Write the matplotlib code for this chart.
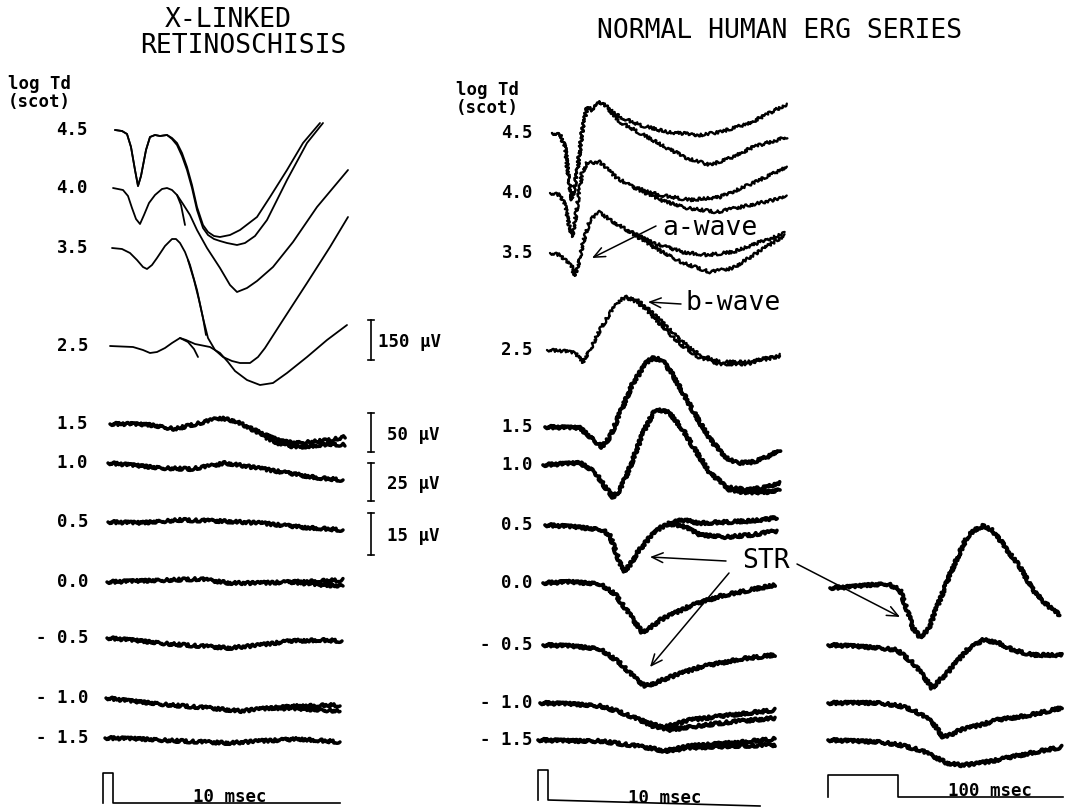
import matplotlib.pyplot as plt

# ---- trace values (x: time in px, y: level in px, downwards) ----
# X-linked retinoschisis, 10 msec sweep
xlrs_traces = {
    '4.5': [([115, 122, 127, 131, 135, 138, 141, 146, 150, 155, 160, 167, 172, 177, 182, 187, 192, 197, 203, 208, 214,
              220, 230, 240, 257, 270, 287, 303, 320],
             [130, 131, 134, 147, 170, 186, 176, 150, 137, 135, 136, 135, 138, 143, 153, 167, 185, 207, 225, 232, 236,
              237, 235, 230, 217, 197, 170, 143, 123]),
            ([115, 122, 127, 131, 135, 138, 141, 146, 150, 155, 160, 167, 172, 177, 182, 187, 192, 197, 203, 208, 214,
              220, 227, 237, 245, 255, 267, 287, 307, 323],
             [130, 131, 134, 147, 170, 186, 176, 150, 137, 135, 136, 135, 139, 145, 156, 170, 188, 210, 228, 235, 239,
              241, 243, 245, 243, 236, 220, 180, 143, 123])],
    '4.0': [([113, 123, 128, 132, 136, 140, 144, 149, 155, 162, 167, 172, 177, 183, 190, 197, 207, 220, 230, 237, 247,
              257, 273, 293, 317, 348],
             [188, 190, 196, 208, 219, 224, 215, 203, 195, 189, 188, 190, 195, 204, 215, 230, 248, 268, 285, 292, 288,
              281, 267, 242, 207, 170]),
            ([177, 181, 183, 185], [195, 205, 215, 225])],
    '3.5': [([112, 122, 130, 137, 143, 147, 152, 157, 165, 172, 176, 180, 185, 190, 197, 203, 208, 215, 223, 232, 240,
              250, 258, 265, 283, 307, 330, 348],
             [248, 249, 253, 260, 267, 269, 265, 258, 246, 239, 239, 243, 252, 265, 290, 318, 338, 350, 357, 361, 363,
              363, 357, 348, 320, 283, 247, 217]),
            ([188, 194, 199, 203, 206], [260, 280, 300, 318, 335])],
    '2.5': [([110, 133, 143, 150, 157, 165, 172, 180, 186, 195, 210, 220, 228, 235, 247, 260, 273, 287, 307, 327, 347],
             [346, 347, 350, 353, 352, 348, 343, 338, 340, 344, 347, 353, 362, 371, 380, 385, 383, 373, 357, 340, 325]),
            ([180, 188, 194, 198], [338, 342, 349, 357])],
    '1.5': [([110, 130, 150, 175, 200, 220, 235, 250, 265, 280, 295, 310, 330, 345],
             [424, 424, 425, 429, 423, 418, 421, 428, 437, 444, 447, 446, 444, 445]),
            ([250, 265, 280, 295, 310, 330, 345], [428, 435, 441, 443, 442, 440, 437])],
    '1.0': [([108, 130, 160, 190, 210, 225, 245, 270, 300, 320, 343],
             [463, 465, 468, 469, 466, 463, 466, 470, 475, 478, 480])],
    '0.5': [([108, 140, 180, 220, 260, 300, 343], [522, 523, 520, 521, 523, 527, 530])],
    '0.0': [([107, 140, 170, 200, 230, 260, 290, 320, 343], [582, 581, 580, 579, 583, 583, 582, 581, 580]),
            ([290, 320, 343], [582, 585, 586])],
    '- 0.5': [([107, 130, 170, 200, 230, 260, 290, 320, 342], [638, 640, 644, 646, 648, 645, 641, 640, 641])],
    '- 1.0': [([106, 130, 170, 210, 240, 270, 300, 340], [698, 701, 705, 708, 711, 708, 706, 705]),
              ([270, 300, 340], [708, 709, 711])],
    '- 1.5': [([105, 140, 180, 230, 260, 300, 340], [738, 739, 741, 743, 741, 739, 742])],
}

# normal human, 10 msec sweep
normal_traces = {
    '4.5': [([552, 560, 565, 568, 572, 577, 582, 587, 592, 600, 607, 620, 640, 667, 700, 720, 750, 787],
             [133, 135, 147, 173, 200, 173, 133, 107, 110, 102, 107, 117, 125, 132, 135, 132, 123, 104]),
            ([552, 560, 565, 568, 572, 577, 582, 587, 592, 600, 607, 620, 640, 667, 687, 710, 733, 753, 787],
             [133, 135, 147, 173, 200, 173, 133, 107, 110, 102, 107, 122, 133, 148, 158, 165, 157, 147, 137])],
    '4.0': [([550, 560, 565, 569, 572, 575, 578, 582, 587, 600, 605, 617, 633, 660, 690, 720, 753, 787],
             [193, 195, 205, 225, 237, 222, 200, 173, 163, 162, 167, 178, 187, 195, 200, 197, 183, 167]),
            ([633, 660, 687, 717, 750, 787], [187, 200, 208, 212, 205, 197])],
    '3.5': [([550, 560, 567, 572, 574, 578, 583, 590, 600, 610, 627, 653, 683, 707, 733, 785],
             [253, 255, 262, 267, 276, 267, 243, 220, 212, 220, 230, 243, 252, 255, 252, 233]),
            ([627, 653, 683, 710, 733, 785], [230, 247, 263, 272, 268, 235])],
    '2.5': [([547, 563, 575, 583, 590, 600, 610, 620, 627, 637, 647, 660, 680, 700, 720, 747, 763, 780],
             [350, 351, 353, 362, 350, 330, 313, 300, 297, 300, 308, 320, 340, 355, 362, 362, 359, 355]),
            ([627, 637, 647, 660, 680, 700, 720, 747, 763, 780],
             [298, 302, 311, 324, 344, 358, 364, 364, 360, 356])],
    '1.5': [([545, 580, 590, 602, 610, 620, 633, 647, 653, 662, 673, 687, 700, 713, 727, 737, 753, 767, 780],
             [427, 428, 437, 447, 437, 413, 383, 362, 358, 360, 375, 400, 423, 443, 458, 463, 462, 457, 450])],
    '1.0': [([543, 580, 595, 605, 613, 620, 630, 643, 653, 660, 670, 683, 697, 710, 727, 747, 767, 780],
             [465, 463, 472, 487, 497, 490, 467, 433, 413, 410, 413, 430, 453, 473, 487, 490, 487, 483]),
            ([727, 747, 767, 780], [489, 493, 492, 490])],
    '0.5': [([545, 575, 603, 610, 617, 623, 630, 637, 650, 660, 670, 683, 700, 727, 750, 777],
             [525, 527, 530, 536, 555, 572, 565, 553, 537, 528, 523, 520, 523, 522, 521, 518]),
            ([670, 683, 700, 727, 750, 777], [524, 526, 535, 537, 535, 531])],
    '0.0': [([543, 570, 600, 615, 630, 642, 650, 660, 690, 720, 750, 775],
             [583, 582, 584, 594, 615, 632, 628, 620, 606, 596, 590, 585])],
    '- 0.5': [([543, 570, 600, 620, 635, 645, 655, 670, 700, 740, 775],
               [645, 646, 649, 663, 678, 686, 683, 677, 667, 659, 655])],
    '- 1.0': [([540, 570, 600, 620, 640, 655, 665, 690, 730, 775], [703, 704, 706, 712, 720, 725, 727, 720, 715, 710]),
              ([640, 655, 670, 690, 730, 775], [720, 727, 730, 727, 722, 718])],
    '- 1.5': [([538, 570, 600, 630, 650, 665, 690, 730, 775], [740, 741, 741, 745, 748, 751, 746, 743, 739]),
              ([665, 690, 730, 775], [751, 748, 746, 745])],
}

# normal human, 100 msec sweep (0.0 to -1.5)
slow_traces = {
    '0.0': ([830, 850, 870, 888, 900, 907, 913, 920, 928, 937, 953, 967, 975, 983, 992, 1000, 1020, 1033, 1045, 1053, 1060],
            [588, 587, 585, 584, 590, 610, 628, 637, 630, 607, 567, 537, 530, 526, 530, 540, 567, 590, 603, 610, 615]),
    '- 0.5': ([828, 850, 880, 897, 913, 925, 932, 940, 947, 967, 983, 997, 1013, 1033, 1062],
              [645, 646, 648, 650, 663, 678, 688, 680, 673, 650, 640, 642, 650, 655, 655]),
    '- 1.0': ([828, 850, 880, 900, 913, 925, 933, 943, 950, 960, 980, 997, 1030, 1062],
              [703, 703, 703, 706, 710, 717, 723, 737, 735, 730, 725, 720, 715, 708]),
    '- 1.5': ([828, 850, 880, 900, 920, 935, 947, 960, 975, 997, 1030, 1062],
              [740, 741, 742, 745, 750, 757, 763, 765, 764, 760, 753, 747]),
}

gain_labels = ['150 \u00b5V', '50 \u00b5V', '25 \u00b5V', '15 \u00b5V']

fig = plt.figure(figsize=(10.66, 8.09), dpi=100)
ax = fig.add_axes([0, 0, 1, 1])
ax.set_xlim(0, 1066)
ax.set_ylim(809, 0)
ax.axis('off')

thin = {'4.5', '4.0', '3.5', '2.5'}


def draw(xs, ys, lw, noisy):
    line, = ax.plot(xs, ys, color='black', lw=lw, solid_joinstyle='round', solid_capstyle='round')
    if noisy:
        line.set_sketch_params(scale=1.5, length=3, randomness=4)


for lev, tr in xlrs_traces.items():
    for xs, ys in tr:
        draw(xs, ys, 1.3 if lev in thin else 2.5, lev not in thin)
for lev, tr in normal_traces.items():
    for xs, ys in tr:
        draw(xs, ys, 1.7 if lev in thin else 2.7, True)
for lev, (xs, ys) in slow_traces.items():
    draw(xs, ys, 2.7, True)

# intensity labels
lab = dict(family='DejaVu Sans Mono', fontweight='bold', fontsize=12.5, va='center')
for lev, tr in xlrs_traces.items():
    ax.text(88, tr[0][1][0], lev, ha='right', **lab)
for lev, tr in normal_traces.items():
    ax.text(533, tr[0][1][0], lev, ha='right', **lab)
ax.text(8, 84, 'log Td', ha='left', **lab)
ax.text(8, 102, '(scot)', ha='left', **lab)
ax.text(456, 90, 'log Td', ha='left', **lab)
ax.text(456, 108, '(scot)', ha='left', **lab)

# titles
ttl = dict(family='DejaVu Sans Mono', fontsize=19, ha='center', va='center')
ax.text(228, 20, 'X-LINKED', **ttl)
ax.text(243, 46, 'RETINOSCHISIS', **ttl)
ax.text(780, 31, 'NORMAL HUMAN ERG SERIES', **ttl)

# gain bars
bar_spans = [(320, 360), (413, 452), (463, 501), (513, 555)]
glab = dict(family='DejaVu Sans Mono', fontweight='bold', fontsize=12.5, va='center', ha='left')
for (y0, y1), g in zip(bar_spans, gain_labels):
    bx = 371
    ax.plot([bx, bx], [y0, y1], color='black', lw=1.2)
    ax.plot([bx - 3, bx + 3], [y0, y0], color='black', lw=1.2)
    ax.plot([bx - 3, bx + 3], [y1, y1], color='black', lw=1.2)
    ax.text(378 if g.startswith('150') else 387, (y0 + y1) / 2 + 2, g, **glab)

# stimulus markers / time bars
ax.plot([103, 103, 113, 113, 340], [803, 773, 773, 803, 803], color='black', lw=1.2)
ax.plot([538, 538, 548, 548, 760], [800, 770, 770, 800, 806], color='black', lw=1.2)
ax.plot([828, 828, 898, 898, 1063], [797, 775, 775, 797, 797], color='black', lw=1.2)
tb = dict(family='DejaVu Sans Mono', fontweight='bold', fontsize=12.5, ha='center', va='baseline')
ax.text(230, 802, '10 msec', **tb)
ax.text(665, 803, '10 msec', **tb)
ax.text(990, 796, '100 msec', **tb)

# annotations
arr = dict(arrowstyle='->,head_length=0.8,head_width=0.35', color='black', lw=1.1, shrinkA=0, shrinkB=0)
ann = dict(family='DejaVu Sans Mono', fontsize=19, va='center', ha='left')
ax.text(662, 228, 'a-wave', **ann)
ax.annotate('', xy=(592, 258), xytext=(656, 226), arrowprops=arr)
ax.text(686, 303, 'b-wave', **ann)
ax.annotate('', xy=(648, 302), xytext=(681, 304), arrowprops=arr)
ax.text(742, 561, 'STR', **ann)
ax.annotate('', xy=(650, 557), xytext=(726, 561), arrowprops=arr)
ax.annotate('', xy=(650, 667), xytext=(729, 573), arrowprops=arr)
ax.annotate('', xy=(900, 617), xytext=(797, 564), arrowprops=arr)

fig.savefig('out.png', dpi=100)
